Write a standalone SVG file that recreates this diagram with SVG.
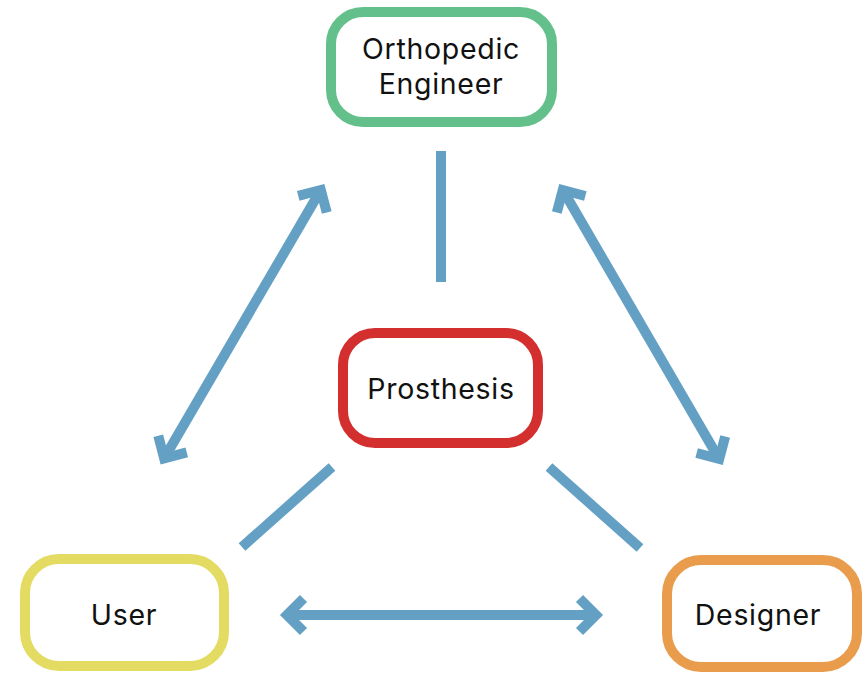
<svg xmlns="http://www.w3.org/2000/svg" width="866" height="675" viewBox="0 0 866 675">
  <defs>
    <style>
      .box { fill: #ffffff; stroke-width: 10; }
      .label { font-family: "Inter", "Liberation Sans", sans-serif; font-size: 28.5px; letter-spacing: 0.7px; fill: #111111; text-anchor: middle; }
      .link { stroke: #64a0c4; stroke-width: 10; fill: none; stroke-linecap: butt; }
    </style>
    <marker id="chevron" markerUnits="userSpaceOnUse" orient="auto-start-reverse" refX="0" refY="0" markerWidth="60" markerHeight="60" viewBox="-30 -30 60 60" overflow="visible">
      <polyline points="-13.5,-16.5 3,0 -13.5,16.5" fill="none" stroke="#64a0c4" stroke-width="10" stroke-linejoin="miter" stroke-miterlimit="10"/>
    </marker>
  </defs>

  <g id="connectors">
    <line class="link" x1="441" y1="151" x2="441" y2="282"/>
    <line class="link" x1="242" y1="547" x2="332" y2="467"/>
    <line class="link" x1="549" y1="467" x2="640" y2="548"/>
    <line class="link" x1="165.7" y1="455.7" x2="319.3" y2="192.6" marker-start="url(#chevron)" marker-end="url(#chevron)"/>
    <line class="link" x1="564.3" y1="192.6" x2="717.7" y2="456.4" marker-start="url(#chevron)" marker-end="url(#chevron)"/>
    <line class="link" x1="290" y1="615" x2="593" y2="615" marker-start="url(#chevron)" marker-end="url(#chevron)"/>
  </g>

  <g id="orthopedic-engineer">
    <rect class="box" x="331" y="12" width="221" height="110" rx="32" stroke="#64c08a"/>
    <text class="label" x="441" y="59">Orthopedic</text>
    <text class="label" x="441" y="94">Engineer</text>
  </g>

  <g id="prosthesis">
    <rect class="box" x="343" y="333" width="195" height="110" rx="32" stroke="#d32f2f"/>
    <text class="label" x="441" y="399">Prosthesis</text>
  </g>

  <g id="user">
    <rect class="box" x="25" y="559" width="199" height="107" rx="34" stroke="#e3db62" stroke-width="12"/>
    <text class="label" x="124" y="625">User</text>
  </g>

  <g id="designer">
    <rect class="box" x="667" y="560" width="190" height="107" rx="34" stroke="#e89c4c" stroke-width="11"/>
    <text class="label" x="758" y="625">Designer</text>
  </g>
</svg>
